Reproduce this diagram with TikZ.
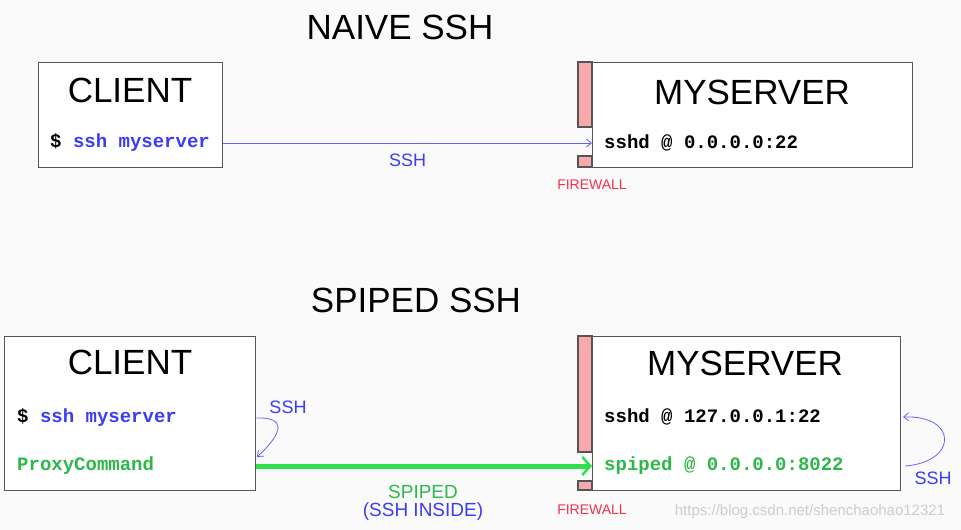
\documentclass[tikz,border=0pt]{standalone}
\usepackage{fontspec}
\setmainfont{Liberation Sans}
\setmonofont{Liberation Mono}
\usetikzlibrary{arrows.meta,positioning}

\definecolor{sshblue}{HTML}{3C3CF5}
\definecolor{pipegreen}{HTML}{2DB84A}
\definecolor{pipebright}{HTML}{2EE04C}
\definecolor{wallpink}{HTML}{F7A9AB}
\definecolor{wallred}{HTML}{F5304F}
\definecolor{edgegray}{HTML}{555555}
\definecolor{paper}{HTML}{FAFAFA}

\tikzset{
  machine/.style={draw=edgegray, line width=1.4pt, fill=white, inner sep=0pt, anchor=north west},
  hdr/.style={font=\fontsize{35}{35}\selectfont, text=black},
  cmd/.style={font=\ttfamily\bfseries\fontsize{19}{19}\selectfont, anchor=west, inner sep=0pt},
  tag/.style={font=\fontsize{18}{18}\selectfont, text=sshblue, inner sep=1pt},
  wall/.style={draw=edgegray, line width=1.2pt, fill=wallpink},
  fwlabel/.style={font=\fontsize{14}{14}\selectfont, text=wallred},
  sshline/.style={draw=sshblue!80, line width=0.8pt, -{Straight Barb[length=5pt,width=8pt]}},
  pipeline/.style={draw=pipebright, line width=5pt, -{Straight Barb[length=8pt,width=18pt,line width=2.5pt]}},
}

\begin{document}
\begin{tikzpicture}[x=1pt,y=-1pt]
	\fill[paper] (0,0) rectangle (961,530);
	\useasboundingbox (0,0) rectangle (961,530);
	% naive ssh
	\node[hdr] (title1) at (400,27) {NAIVE SSH};
	\node[machine, minimum width=184, minimum height=105] (client1) at (38,62) {};
	\node[hdr] (chead1) at (130,90) {CLIENT};
	\node[cmd] (cmd1) at (50,143) {\$ \textcolor{sshblue}{ssh myserver}};
	\draw[wall] (578,62) rectangle (592,127);
	\draw[wall] (578,156) rectangle (592,167);
	\node[machine, minimum width=320, minimum height=105] (server1) at (592,62) {};
	\node[hdr] (shead1) at (752,92) {MYSERVER};
	\node[cmd] (sshd1) at (604,143) {sshd @ 0.0.0.0:22};
	\node[fwlabel] (fw1) at (592,185) {FIREWALL};
	\draw[sshline] (client1.east |- cmd1) -- node[tag, below=10pt] (ssh1) {SSH} (server1.west |- sshd1);
	% spiped ssh
	\node[hdr] (title2) at (416,300) {SPIPED SSH};
	\node[machine, minimum width=251, minimum height=154] (client2) at (4,336) {};
	\node[hdr] (chead2) at (130,362) {CLIENT};
	\node[cmd] (cmd2) at (17,418) {\$ \textcolor{sshblue}{ssh myserver}};
	\node[cmd, text=pipegreen] (proxy) at (17,466) {ProxyCommand};
	\draw[wall] (578,336) rectangle (592,452);
	\draw[wall] (578,481) rectangle (592,490);
	\node[machine, minimum width=308, minimum height=154] (server2) at (592,336) {};
	\node[hdr] (shead2) at (745,363) {MYSERVER};
	\node[cmd] (sshd2) at (604,417) {sshd @ 127.0.0.1:22};
	\node[cmd, text=pipegreen] (spiped) at (604,466) {spiped @ 0.0.0.0:8022};
	\node[fwlabel] (fw2) at (592,510) {FIREWALL};
	% tunnel
	\draw[pipeline] (client2.east |- proxy) -- (server2.west |- spiped);
	\node[tag, text=pipegreen, font=\fontsize{19}{19}\selectfont] (spipedlbl) at (423,492) {SPIPED};
	\node[tag, font=\fontsize{19}{19}\selectfont] (inside) [below=2pt of spipedlbl] {(SSH INSIDE)};
	% local hops
	\coordinate (cin) at (257,457);
	\coordinate (sout) at (905,466);
	\coordinate (sin) at (903,417);
	\draw[sshline] (client2.east |- cmd2) .. controls (286,417) and (284,432) .. (cin);
	\node[tag] (ssh2) at (288,407) {SSH};
	\draw[sshline] (sout) .. controls (958,462) and (958,415) .. (sin);
	\node[tag] (ssh3) at (933,478) {SSH};
	\node[font=\fontsize{15}{15}\selectfont, text=black!20] (mark) at (810,512) {https://blog.csdn.net/shenchaohao12321};
\end{tikzpicture}
\end{document}
